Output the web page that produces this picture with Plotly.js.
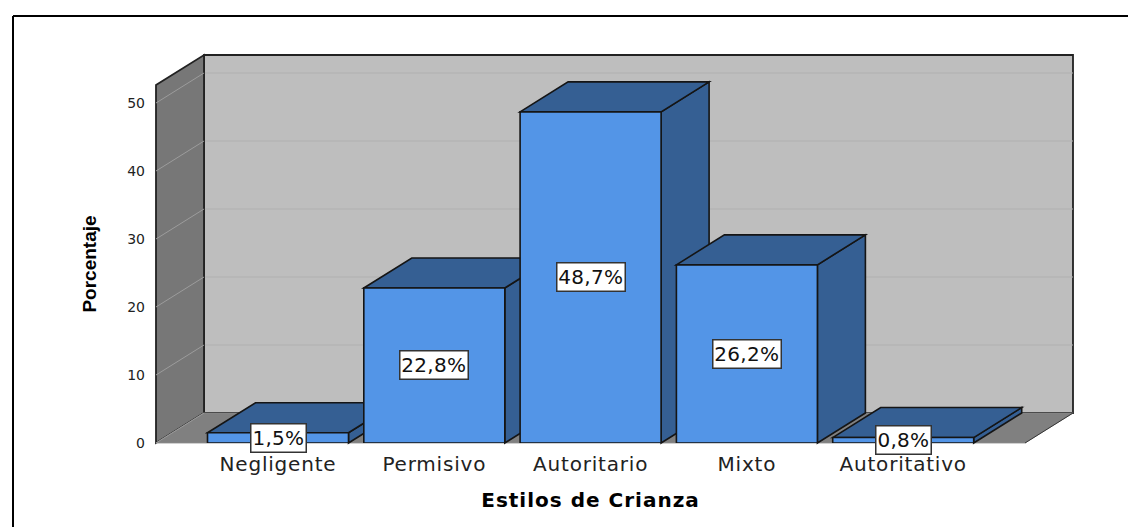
<!DOCTYPE html>
<html>
<head>
<meta charset="utf-8">
<script src="https://cdn.plot.ly/plotly-3.0.1.min.js"></script>
<style>
html,body{margin:0;padding:0;background:#fff;overflow:hidden}
#chart{width:1128px;height:527px}
.x2tick text{letter-spacing:0.8px}
.annotation text{letter-spacing:0.3px}
.x2title{letter-spacing:1px}
</style>
</head>
<body>
<div id="chart"></div>
<script>
const categories = ['Negligente','Permisivo','Autoritario','Mixto','Autoritativo'];
const percentages = [1.5, 22.8, 48.7, 26.2, 0.8];
const barLabels = ['1,5%','22,8%','48,7%','26,2%','0,8%'];
const yTicks = [0,10,20,30,40,50];
const xTitle = 'Estilos de Crianza';
const yTitle = 'Porcentaje';

const W = 1128, H = 527;
const colFront = '#5395e7', colDark = '#355f93', colWall = '#bebebe', colSide = '#777777', colFloor = '#808080';
const pxPerCat = 156.3, pxPerUnit = 6.8, cat0Px = 278, zeroPx = 443;
const barW = 141 / pxPerCat, dx = 48 / pxPerCat, dy = 30 / pxPerUnit;
const xOf = p => (p - cat0Px) / pxPerCat, yOf = p => (zeroPx - p) / pxPerUnit;

const xL = xOf(156), xRFront = xOf(1025), yTopFront = yOf(85);
const poly = pts => 'M' + pts.map(p => p[0] + ',' + p[1]).join('L') + 'Z';
const face = (pts, fill, lc, lw) => ({type:'path', xref:'x', yref:'y', layer:'below', path:poly(pts), fillcolor:fill, line:{color:lc||'#151515', width:lw===undefined?1.6:lw}});
const seg = (a, b, c) => ({type:'line', xref:'x', yref:'y', layer:'below', x0:a[0], y0:a[1], x1:b[0], y1:b[1], line:{color:c, width:1}});
const frame = (a, b, c, d) => ({type:'line', xref:'paper', yref:'paper', x0:a/W, y0:1-b/H, x1:c/W, y1:1-d/H, line:{color:'#000', width:2}});

const shapes = [];
// back wall, left wall, floor
shapes.push(face([[xL+dx,dy],[xL+dx,yTopFront+dy],[xRFront+dx,yTopFront+dy],[xRFront+dx,dy]], colWall, '#222', 1.8));
yTicks.slice(1).forEach(t => shapes.push(seg([xL+dx,t+dy],[xRFront+dx,t+dy],'#b0b0b0')));
shapes.push(face([[xL,0],[xL,yTopFront],[xL+dx,yTopFront+dy],[xL+dx,dy]], colSide, '#222', 1.8));
yTicks.slice(1).forEach(t => shapes.push(seg([xL,t],[xL+dx,t+dy],'#9c9c9c')));
shapes.push(face([[xL,0],[xL+dx,dy],[xRFront+dx,dy],[xRFront,0]], colFloor, '#8a8a8a', 0.8));
shapes.push(seg([xL,0],[xL+dx,dy],'#9c9c9c'));
shapes.push(seg([xRFront,0],[xRFront+dx,dy],'#333333'));
// bar depth faces
percentages.forEach((v, i) => {
  const l = i - barW/2, r = i + barW/2;
  shapes.push(face([[r,0],[r,v],[r+dx,v+dy],[r+dx,dy]], colDark));
  shapes.push(face([[l,v],[l+dx,v+dy],[r+dx,v+dy],[r,v]], colDark));
});
// outer frame
shapes.push(frame(13,16,1128,16), frame(13,16,13,527));

const annotations = percentages.map((v, i) => ({
  x: categories[i], y: v/2, xref:'x2', yref:'y2', text: barLabels[i], showarrow:false,
  font:{family:'DejaVu Sans', size:20, color:'#111'},
  bgcolor:'#fff', bordercolor:'#333', borderwidth:1.5, borderpad:1.5
}));

const traces = [
  {type:'scatter', x:[0], y:[0], xaxis:'x', yaxis:'y', mode:'none', hoverinfo:'skip', showlegend:false},
  {type:'bar', x:categories, y:percentages, xaxis:'x2', yaxis:'y2', width:barW,
   marker:{color:colFront, line:{color:'#151515', width:1.6}}, showlegend:false}
];

const layout = {
  width:W, height:H, margin:{l:0,r:0,t:0,b:0}, showlegend:false,
  paper_bgcolor:'#fff', plot_bgcolor:'rgba(0,0,0,0)',
  shapes, annotations,
  xaxis:{domain:[150/W,1080/W], range:[xOf(150),xOf(1080)], visible:false, fixedrange:true},
  yaxis:{domain:[1-447/H,1-50/H], range:[yOf(447),yOf(50)], visible:false, fixedrange:true},
  xaxis2:{domain:[156/W,1025/W], anchor:'y2', type:'category', range:[xL,xRFront], showgrid:false, zeroline:false, showline:false,
    ticks:'', tickangle:0, ticklabelstandoff:7, tickfont:{family:'DejaVu Sans', size:20, color:'#222'},
    title:{text:xTitle, standoff:17, font:{family:'DejaVu Sans', size:20, weight:'bold', color:'#000'}}},
  yaxis2:{domain:[1-443/H,1-85/H], anchor:'x2', range:[0,yTopFront], tickvals:yTicks, showgrid:false, zeroline:false, showline:false,
    ticks:'', ticklabelstandoff:10, tickfont:{family:'DejaVu Sans', size:14, color:'#222'},
    title:{text:yTitle, standoff:25, font:{family:'Liberation Sans', size:19, weight:'bold', color:'#000'}}}
};
Plotly.newPlot('chart', traces, layout, {displayModeBar:false, staticPlot:true});
</script>
</body>
</html>
